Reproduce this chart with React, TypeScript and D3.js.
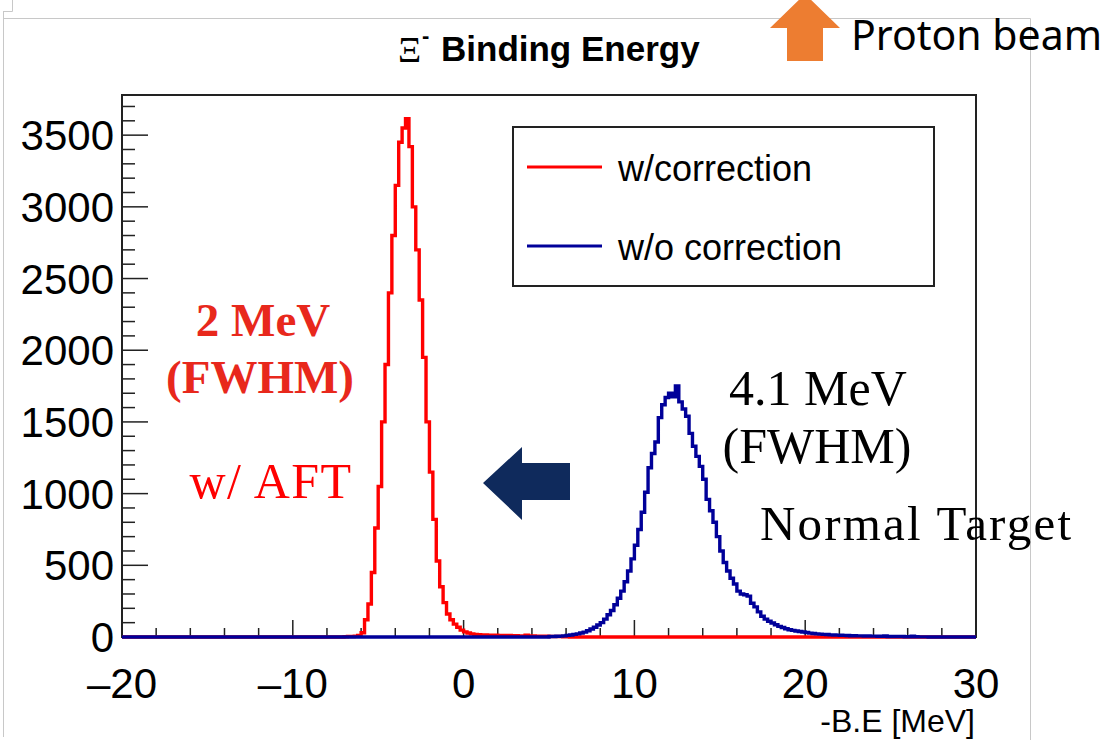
import React from "react";
import * as d3 from "d3";

// Histogram binning: 0.2 MeV bins over [-20, 30]
const X_MIN = -20;
const X_MAX = 30;
const BIN_WIDTH = 0.2;
const Y_MAX = 3780;

const X_MAJOR_TICKS = [-20, -10, 0, 10, 20, 30];
const X_TICK_LABELS = ["\u201320", "\u201310", "0", "10", "20", "30"];
const Y_MAJOR_TICKS = [0, 500, 1000, 1500, 2000, 2500, 3000, 3500];
const Y_TICK_LABELS = ["0", "500", "1000", "1500", "2000", "2500", "3000", "3500"];

// w/correction: counts per bin, first bin starts at -7.0 MeV
const RED_START = -7.0;
const RED_COUNTS = [
  2, 3, 4, 6, 10, 30, 120, 230, 450, 760,
  1050, 1500, 1900, 2400, 2800, 3150, 3450, 3550, 3615, 3420,
  3000, 2700, 2350, 1950, 1500, 1150, 820, 530, 350, 240,
  160, 120, 90, 68, 48, 36, 28, 22, 18, 16,
  14, 14, 13, 12, 12, 11, 11, 10, 10, 9,
  9, 8, 8, 12, 7, 7, 6, 6, 5, 5,
  4, 4, 3, 3, 2, 2,
];

// w/o correction: counts per bin, first bin starts at 5.0 MeV
const BLUE_START = 5.0;
const BLUE_COUNTS = [
  3, 4, 5, 6, 8, 11, 14, 18, 22, 28,
  34, 44, 56, 68, 84, 100, 125, 155, 185, 225,
  270, 320, 385, 460, 545, 640, 750, 870, 1010, 1180,
  1280, 1360, 1530, 1620, 1670, 1700, 1675, 1750, 1640, 1590,
  1540, 1420, 1330, 1260, 1190, 1100, 960, 880, 800, 700,
  600, 520, 460, 410, 370, 320, 300, 295, 285, 235,
  210, 175, 145, 125, 110, 98, 85, 74, 66, 58,
  51, 46, 42, 38, 35, 31, 27, 24, 22, 20,
  18, 17, 15, 14, 13, 12, 11, 10, 9, 9,
  8, 8, 7, 7, 6, 6, 5, 5, 8, 4,
  4, 3, 3, 3, 2, 2, 5, 2, 1, 1, 1,
];

const LEGEND_LABELS = ["w/correction", "w/o correction"];
const SERIES_COLORS = ["#ff0000", "#000099"];

const W = 1109;
const H = 746;
const FRAME = { left: 122, right: 976, top: 95, bottom: 637 };

function fullHistogram(start: number, counts: number[]): number[] {
  const n = Math.round((X_MAX - X_MIN) / BIN_WIDTH);
  const out = new Array(n).fill(0);
  const offset = Math.round((start - X_MIN) / BIN_WIDTH);
  counts.forEach((c, i) => {
    if (offset + i < n) out[offset + i] = c;
  });
  return out;
}

export default function App() {
  const x = d3.scaleLinear().domain([X_MIN, X_MAX]).range([FRAME.left, FRAME.right]);
  const y = d3.scaleLinear().domain([0, Y_MAX]).range([FRAME.bottom, FRAME.top]);

  const stepLine = d3
    .line<[number, number]>()
    .x((d) => x(d[0]))
    .y((d) => y(d[1]))
    .curve(d3.curveStepAfter);

  const histPath = (counts: number[]) => {
    const pts: [number, number][] = counts.map((c, i) => [X_MIN + i * BIN_WIDTH, c]);
    pts.push([X_MAX, counts[counts.length - 1]]);
    return stepLine(pts) || "";
  };

  const red = fullHistogram(RED_START, RED_COUNTS);
  const blue = fullHistogram(BLUE_START, BLUE_COUNTS);

  const xMinor = d3.range(X_MIN, X_MAX + 0.001, 2).filter((v) => !X_MAJOR_TICKS.includes(v));
  const yMinor = d3.range(0, Y_MAX, 100).filter((v) => v % 500 !== 0);

  const sans = "'Liberation Sans', Arial, Helvetica, sans-serif";
  const serif = "'Liberation Serif', 'Times New Roman', serif";

  return (
    <div style={{ position: "absolute", left: 0, top: 0, width: W, height: H, background: "#fff" }}>
      <svg width={W} height={H} viewBox={`0 0 ${W} ${H}`} xmlns="http://www.w3.org/2000/svg">
        <rect x={0} y={0} width={W} height={H} fill="#ffffff" />

        {/* outer gray border */}
        <g stroke="#c8c8c8" strokeWidth={1} fill="none">
          <path d="M3.5,11 V737" />
          <path d="M12.5,0 V11.5 H3" />
          <path d="M3,18.5 H1030.5 V740" />
        </g>

        {/* title */}
        <text x={398} y={62} fontFamily={serif} fontSize={36} fill="#000">
          Ξ
        </text>
        <text x={422} y={43} fontFamily={sans} fontWeight="bold" fontSize={22} fill="#000">
          -
        </text>
        <text x={441} y={61} fontFamily={sans} fontWeight="bold" fontSize={35} fill="#000">
          Binding Energy
        </text>

        <defs>
          <clipPath id="frameClip">
            <rect x={FRAME.left} y={FRAME.top - 2} width={FRAME.right - FRAME.left} height={FRAME.bottom - FRAME.top + 4} />
          </clipPath>
        </defs>

        {/* frame */}
        <rect
          x={FRAME.left}
          y={FRAME.top}
          width={FRAME.right - FRAME.left}
          height={FRAME.bottom - FRAME.top}
          fill="none"
          stroke="#222"
          strokeWidth={2}
        />

        {/* x ticks */}
        <g stroke="#222" strokeWidth={1.5}>
          {X_MAJOR_TICKS.map((v) => (
            <line key={`xM${v}`} x1={x(v)} x2={x(v)} y1={FRAME.bottom} y2={FRAME.bottom - 17} />
          ))}
          {xMinor.map((v) => (
            <line key={`xm${v}`} x1={x(v)} x2={x(v)} y1={FRAME.bottom} y2={FRAME.bottom - 9} />
          ))}
          {Y_MAJOR_TICKS.map((v) => (
            <line key={`yM${v}`} x1={FRAME.left} x2={FRAME.left + 26} y1={y(v)} y2={y(v)} />
          ))}
          {yMinor.map((v) => (
            <line key={`ym${v}`} x1={FRAME.left} x2={FRAME.left + 13} y1={y(v)} y2={y(v)} />
          ))}
        </g>

        {/* histograms */}
        <g clipPath="url(#frameClip)" fill="none" strokeWidth={3.4} strokeLinejoin="miter">
          <path d={histPath(red)} stroke={SERIES_COLORS[0]} />
          <path d={histPath(blue)} stroke={SERIES_COLORS[1]} />
        </g>

        {/* tick labels */}
        <g fontFamily={sans} fontSize={42} fill="#000">
          {X_MAJOR_TICKS.map((v, i) => (
            <text key={`xl${v}`} x={x(v)} y={FRAME.bottom + 61} textAnchor="middle">
              {X_TICK_LABELS[i]}
            </text>
          ))}
          {Y_MAJOR_TICKS.map((v, i) => (
            <text key={`yl${v}`} x={FRAME.left - 8} y={y(v) + 15} textAnchor="end">
              {Y_TICK_LABELS[i]}
            </text>
          ))}
        </g>

        {/* axis title */}
        <text x={975} y={732} textAnchor="end" fontFamily={sans} fontSize={32} fill="#000">
          -B.E [MeV]
        </text>

        {/* legend */}
        <rect x={513} y={127} width={421} height={159} fill="#fff" stroke="#222" strokeWidth={2} />
        {LEGEND_LABELS.map((lab, i) => (
          <g key={lab}>
            <line x1={527} x2={602} y1={167 + i * 79} y2={167 + i * 79} stroke={SERIES_COLORS[i]} strokeWidth={3} />
            <text x={618} y={181 + i * 79} fontFamily={sans} fontSize={36} fill="#000">
              {lab}
            </text>
          </g>
        ))}

        {/* annotations */}
        <g fontFamily={serif} textAnchor="middle">
          <text x={263} y={336} fontSize={47} fontWeight="bold" fill="#e8281c">
            2 MeV
          </text>
          <text x={260} y={393} fontSize={47} fontWeight="bold" fill="#e8281c">
            (FWHM)
          </text>
          <text x={271} y={498} fontSize={50} letterSpacing={1.5} fill="#ff0000">
            w/ AFT
          </text>
          <text x={818} y={405} fontSize={50} fill="#000">
            4.1 MeV
          </text>
          <text x={817} y={463} fontSize={50} fill="#000">
            (FWHM)
          </text>
        </g>
        <text x={760} y={540} fontFamily={serif} fontSize={49} letterSpacing={2.2} fill="#000">
          Normal Target
        </text>

        {/* left-pointing arrow */}
        <path d="M483,483 L522,447 L522,463 L570,463 L570,500 L522,500 L522,520 Z" fill="#0f2a5c" />

        {/* proton beam arrow */}
        <path d="M805,-6 L840,28 L823,28 L823,61 L787,61 L787,28 L770,28 Z" fill="#ed7d31" />
        <text x={851} y={50} fontFamily="'Noto Sans', 'Open Sans', sans-serif" fontSize={41} fill="#000">
          Proton beam
        </text>
      </svg>
    </div>
  );
}
